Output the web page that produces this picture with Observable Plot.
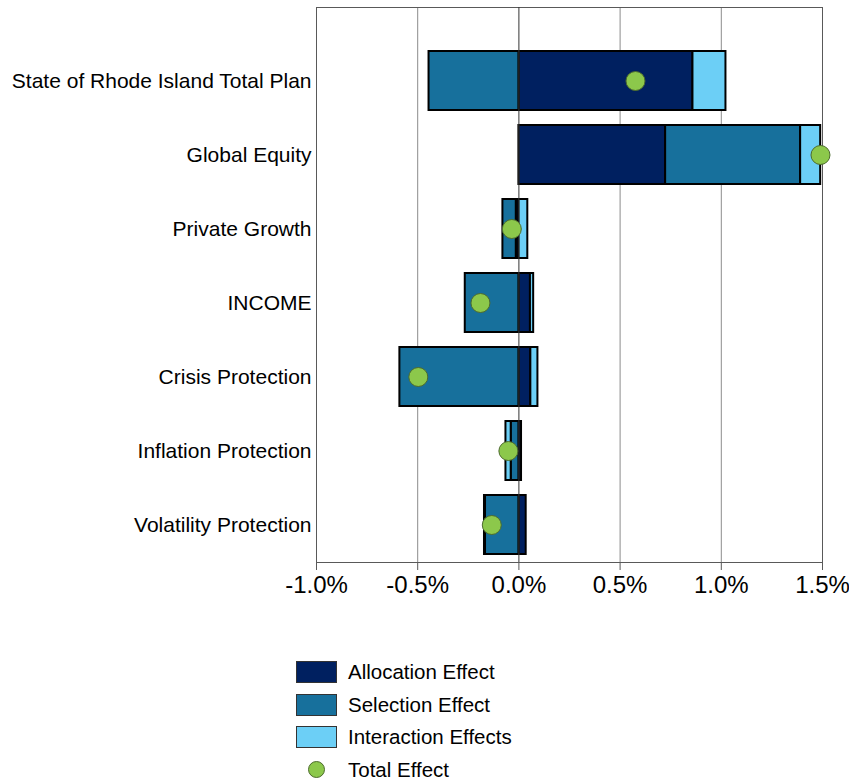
<!DOCTYPE html>
<html>
<head>
<meta charset="utf-8">
<script src="https://cdn.jsdelivr.net/npm/d3@7"></script>
<script src="https://cdn.jsdelivr.net/npm/@observablehq/plot@0.6"></script>
<style>
  body { margin: 0; background: #fff; font-family: "Liberation Sans", Arial, sans-serif; }
  #wrap { position: relative; width: 849px; height: 780px; }
  #legend { position: absolute; left: 296px; top: 656px; font-size: 20.5px; color: #000; }
  .row { display: flex; align-items: center; height: 32.5px; }
  .sw { width: 41px; height: 22px; box-sizing: border-box; border: 1px solid #333; margin-right: 11px; }
  .dotsw { width: 41px; height: 22px; margin-right: 11px; display: flex; justify-content: center; align-items: center; }
  .dotsw span { width: 17px; height: 17px; border-radius: 50%; background: #8CC84B; border: 1px solid #4d6b2e; box-sizing: border-box; }
</style>
</head>
<body>
<div id="wrap">
  <div id="chart"></div>
  <div id="legend"></div>
</div>
<script>
const categories = ["State of Rhode Island Total Plan", "Global Equity", "Private Growth", "INCOME", "Crisis Protection", "Inflation Protection", "Volatility Protection"];
const allocation = [0.860, 0.725, -0.013, 0.057, 0.059, 0.013, 0.036];
const selection = [-0.444, 0.667, -0.066, -0.265, -0.588, -0.038, -0.165];
const interaction = [0.163, 0.099, 0.044, 0.016, 0.035, -0.026, -0.005];
const total = [0.576, 1.490, -0.035, -0.190, -0.497, -0.052, -0.134];
const seriesNames = ["Allocation Effect", "Selection Effect", "Interaction Effects"];
const seriesColors = ["#002060", "#17709C", "#6CCFF6"];
const xTicks = [-1.0, -0.5, 0.0, 0.5, 1.0, 1.5];

const seriesValues = [allocation, selection, interaction];
const bars = [];
seriesNames.forEach((s, si) => {
  categories.forEach((c, ci) => bars.push({category: c, series: s, value: seriesValues[si][ci]}));
});
const dots = categories.map((c, i) => ({category: c, value: total[i]}));

const chart = Plot.plot({
  width: 849,
  height: 620,
  marginLeft: 316,
  marginRight: 27,
  marginTop: 7,
  marginBottom: 58,
  style: {fontFamily: "'Liberation Sans', Arial, sans-serif", color: "#000", background: "#fff"},
  x: {domain: [-1.0, 1.5], ticks: xTicks},
  y: {domain: categories, paddingInner: 0.2, paddingOuter: 0.1, insetTop: 37},
  color: {domain: seriesNames, range: seriesColors},
  marks: [
    Plot.ruleX(xTicks.filter(d => d !== 0), {stroke: "#8c8c8c", strokeWidth: 1}),
    Plot.frame({stroke: "#595959", strokeWidth: 1}),
    Plot.barX(bars, Plot.stackX({y: "category", x: "value", fill: "series", z: "series", stroke: "#000", strokeWidth: 2})),
    Plot.ruleX([0], {stroke: "#333", strokeWidth: 1}),
    Plot.dot(dots, {x: "value", y: "category", r: 9.5, fill: "#8CC84B", stroke: "#4d6b2e", strokeWidth: 1}),
    Plot.axisX({ticks: xTicks, tickSize: 8, tickPadding: 5, fontSize: 24, tickFormat: d => d.toFixed(1) + "%", label: null, stroke: "#595959"}),
    Plot.axisY({tickSize: 0, tickPadding: 5, fontSize: 21, label: null})
  ]
});
document.getElementById("chart").appendChild(chart);

const legend = document.getElementById("legend");
seriesNames.forEach((s, i) => {
  const row = document.createElement("div");
  row.className = "row";
  row.innerHTML = `<div class="sw" style="background:${seriesColors[i]}"></div><div>${s}</div>`;
  legend.appendChild(row);
});
const trow = document.createElement("div");
trow.className = "row";
trow.innerHTML = `<div class="dotsw"><span></span></div><div>Total Effect</div>`;
legend.appendChild(trow);
</script>
</body>
</html>
